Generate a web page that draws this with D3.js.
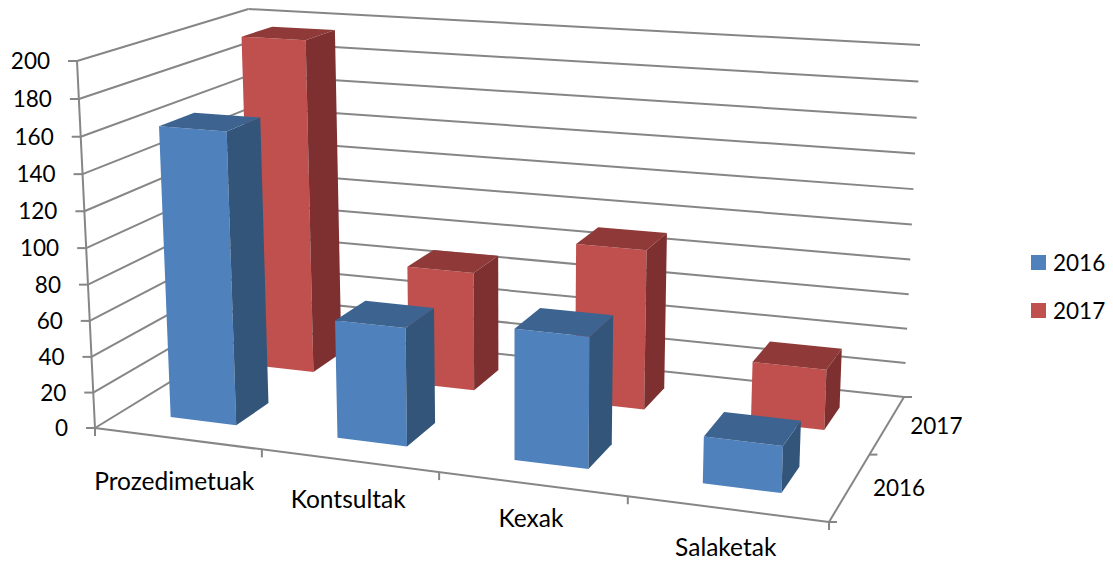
<!DOCTYPE html>
<html lang="en">
<head>
	<meta charset="UTF-8"/>
	<title>3D column chart</title>
	<script src="https://d3js.org/d3.v7.min.js"></script>
	<style>
		html, body { margin: 0; padding: 0; background: #fff; }
		svg { display: block; }
		text { font-family: Lato, "Noto Sans", sans-serif; font-size: 22.5px; fill: #000; }
		text.cat { font-size: 24.5px; }
	</style>
</head>
<body>
<script>
	var w = 1113;
	var h = 562;

	var categories = ["Prozedimetuak", "Kontsultak", "Kexak", "Salaketak"];
	var seriesNames = ["2016", "2017"];
	var values2016 = [162, 65, 71, 25];
	var values2017 = [195, 69, 91, 34];
	var valueTicks = [0, 20, 40, 60, 80, 100, 120, 140, 160, 180, 200];

	// front, side, top faces
	var colors = {
		"2016": ["#4f81bd", "#335579", "#3d6391"],
		"2017": ["#c0504d", "#7d302f", "#8f3a38"]
	};

	// corners of the chart box on screen: front-left, front-right, back-right, back-left
	var floorBox = [[95, 428], [829, 522], [904, 397], [258, 328]];
	var ceilBox = [[77, 61], [849, 122], [920, 45], [249, 9]];
	// all uprights run towards this point far below the chart
	var vanish = [514, 8974];
	var catLabelDx = [-3, -1, -1, -1];
	var catLabelDy = [43, 39, 34, 38];

	// maps unit square to a quad, keeps the perspective
	function quadMap(q) {
		var x0 = q[0][0], y0 = q[0][1], x1 = q[1][0], y1 = q[1][1];
		var x2 = q[2][0], y2 = q[2][1], x3 = q[3][0], y3 = q[3][1];
		var sx = x0 - x1 + x2 - x3, sy = y0 - y1 + y2 - y3;
		var dx1 = x1 - x2, dx2 = x3 - x2, dy1 = y1 - y2, dy2 = y3 - y2;
		var den = dx1 * dy2 - dx2 * dy1;
		var g = (sx * dy2 - dx2 * sy) / den;
		var k = (dx1 * sy - sx * dy1) / den;
		return function(u, v) {
			var d = g * u + k * v + 1;
			return [
				((x1 - x0 + g * x1) * u + (x3 - x0 + k * x3) * v + x0) / d,
				((y1 - y0 + g * y1) * u + (y3 - y0 + k * y3) * v + y0) / d
			];
		};
	}

	var floorMap = quadMap(floorBox);
	var ceilMap = quadMap(ceilBox);

	var uScale = d3.scaleBand().domain(categories).range([0, 1]).paddingInner(0.6).paddingOuter(0.3);
	var vScale = d3.scaleBand().domain(seriesNames).range([0, 1]).paddingInner(0.6).paddingOuter(0.3);
	var catEdge = d3.scaleLinear().domain([0, categories.length]).range([0, 1]);
	var depthEdge = d3.scaleLinear().domain([0, seriesNames.length]).range([0, 1]);
	var valueScale = d3.scaleLinear().domain([0, 200]).range([0, 1]);

	// u across, v into the page, val up the value axis
	function project(u, v, val) {
		var t = valueScale(val);
		var tp = t / (t + (1 - t) * 1.04);
		var a = floorMap(u, v);
		var y = a[1] + (ceilMap(u, v)[1] - a[1]) * tp;
		var x = a[0] + (a[0] - vanish[0]) * (a[1] - y) / (vanish[1] - a[1]);
		return [x, y];
	}

	var svg = d3.select("body")
		.append("svg")
		.attr("width", w)
		.attr("height", h);

	var lineGen = d3.line();

	function segment(g, p, q) {
		g.append("path")
			.attr("d", lineGen([p, q]))
			.attr("fill", "none")
			.attr("stroke", "#868686")
			.attr("stroke-width", 2);
	}

	// walls
	var grid = svg.append("g");
	valueTicks.forEach(function(d) {
		var a = project(0, 0, d), b = project(0, 1, d), c = project(1, 1, d);
		segment(grid, a, b);
		segment(grid, b, c);
		segment(grid, [a[0] - 9, a[1]], a);
		svg.append("text")
			.attr("x", a[0] - 27)
			.attr("y", a[1])
			.attr("dy", "0.36em")
			.style("text-anchor", "end")
			.text(d);
	});

	// floor edges and axis lines
	segment(grid, project(0, 0, 0), project(0, 0, 200));
	segment(grid, project(0, 0, 0), project(1, 0, 0));
	segment(grid, project(1, 0, 0), project(1, 1, 0));

	d3.range(categories.length + 1).forEach(function(i) {
		var p = project(catEdge(i), 0, 0);
		segment(grid, p, [p[0], p[1] + 8]);
	});
	d3.range(seriesNames.length + 1).forEach(function(i) {
		var p = project(1, depthEdge(i), 0);
		segment(grid, p, [p[0] + 8, p[1]]);
	});

	categories.forEach(function(c, i) {
		var p = project(catEdge(i + 0.5), 0, 0);
		svg.append("text")
			.attr("class", "cat")
			.attr("x", p[0] + catLabelDx[i])
			.attr("y", p[1] + catLabelDy[i])
			.attr("dy", "0.36em")
			.style("text-anchor", "middle")
			.text(c);
	});

	seriesNames.forEach(function(s, i) {
		var p = project(1, depthEdge(i + 0.5), 0);
		svg.append("text")
			.attr("x", p[0] + 49)
			.attr("y", p[1] + 1)
			.attr("dy", "0.36em")
			.style("text-anchor", "middle")
			.text(s);
	});

	// bars, back row first
	var bars = [];
	seriesNames.forEach(function(s, si) {
		var vals = si == 0 ? values2016 : values2017;
		categories.forEach(function(c, i) {
			bars.push({cat: c, series: s, value: vals[i], row: si, col: i});
		});
	});
	bars.sort(function(a, b) { return b.row - a.row || a.col - b.col; });

	var barG = svg.append("g").selectAll("g")
		.data(bars)
		.enter()
		.append("g");

	function corners(d) {
		var u0 = uScale(d.cat), u1 = u0 + uScale.bandwidth();
		var v0 = vScale(d.series), v1 = v0 + vScale.bandwidth();
		return {
			front: [project(u0, v0, 0), project(u1, v0, 0), project(u1, v0, d.value), project(u0, v0, d.value)],
			side: [project(u1, v0, 0), project(u1, v1, 0), project(u1, v1, d.value), project(u1, v0, d.value)],
			top: [project(u0, v0, d.value), project(u1, v0, d.value), project(u1, v1, d.value), project(u0, v1, d.value)]
		};
	}

	["front", "side", "top"].forEach(function(face, fi) {
		barG.append("path")
			.attr("d", function(d) { return lineGen(corners(d)[face]) + "Z"; })
			.attr("fill", function(d) { return colors[d.series][fi]; });
	});

	// legend
	var legendY = d3.scalePoint().domain(seriesNames).range([262.5, 310.5]);
	var legend = svg.append("g").selectAll("g")
		.data(seriesNames)
		.enter()
		.append("g")
		.attr("transform", function(d) { return "translate(1031," + legendY(d) + ")"; });

	legend.append("rect")
		.attr("y", -7.5)
		.attr("width", 15)
		.attr("height", 15)
		.attr("fill", function(d) { return colors[d][0]; });

	legend.append("text")
		.attr("x", 22)
		.attr("dy", "0.36em")
		.text(function(d) { return d; });
</script>
</body>
</html>
